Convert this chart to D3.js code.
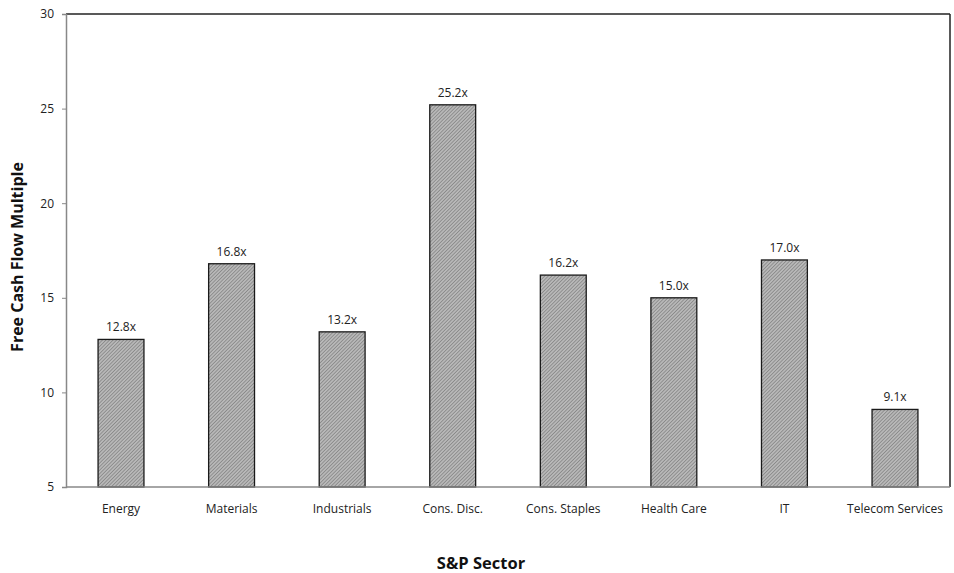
<!DOCTYPE html>
<html><head><meta charset="utf-8">
<script src="https://cdn.jsdelivr.net/npm/d3@7"></script>
<style>body{margin:0;background:#fff;}svg{display:block;font-family:"Open Sans",sans-serif;}</style>
</head><body><svg id="c" width="954" height="573"></svg>
<script>
const categories = ["Energy","Materials","Industrials","Cons. Disc.","Cons. Staples","Health Care","IT","Telecom Services"];
const values = [12.8,16.8,13.2,25.2,16.2,15.0,17.0,9.1];
const valueLabels = ["12.8x","16.8x","13.2x","25.2x","16.2x","15.0x","17.0x","9.1x"];
const yTicks = [5,10,15,20,25,30];

const svg = d3.select("#c");
const m = {l:66, r:950, t:14, b:487};
const x = d3.scaleBand().domain(categories).range([m.l, m.r]).paddingInner(0.585).paddingOuter(0.29);
const y = d3.scaleLinear().domain([5,30]).range([m.b, m.t]);

const defs = svg.append("defs");
const pat = defs.append("pattern").attr("id","hatch").attr("patternUnits","userSpaceOnUse")
  .attr("width",2.5).attr("height",2.5).attr("patternTransform","rotate(45)");
pat.append("rect").attr("width",2.5).attr("height",2.5).attr("fill","#b8b8b8");
pat.append("line").attr("x1",0).attr("y1",0).attr("x2",0).attr("y2",2.5).attr("stroke","#707070").attr("stroke-width",1.1);

// frame
svg.append("line").attr("x1",m.l).attr("x2",m.r).attr("y1",m.t).attr("y2",m.t).attr("stroke","#222").attr("stroke-width",1.5);
svg.append("line").attr("x1",m.r).attr("x2",m.r).attr("y1",m.t).attr("y2",m.b).attr("stroke","#222").attr("stroke-width",1.5);

// bars
svg.selectAll(".bar").data(values).join("rect")
  .attr("x",(d,i)=>x(categories[i])).attr("width",x.bandwidth())
  .attr("y",d=>y(d)).attr("height",d=>y(5)-y(d))
  .attr("fill","url(#hatch)").attr("stroke","#1a1a1a").attr("stroke-width",1.3);

svg.selectAll(".vl").data(values).join("text")
  .attr("x",(d,i)=>x(categories[i])+x.bandwidth()/2).attr("y",d=>y(d)-8)
  .attr("text-anchor","middle").attr("font-size",12).attr("fill","#222")
  .text((d,i)=>valueLabels[i]);

// y axis
const ya = svg.append("g").attr("transform",`translate(${m.l},0)`)
  .call(d3.axisLeft(y).tickValues(yTicks).tickSize(4).tickPadding(8).tickFormat(d3.format("d")));
ya.select(".domain").attr("stroke","#888").attr("stroke-width",1.5);
ya.selectAll(".tick line").attr("stroke","#888");
ya.selectAll("text").attr("font-size",12).attr("fill","#222").attr("font-family","Open Sans");

// x axis
const xa = svg.append("g").attr("transform",`translate(0,${m.b})`)
  .call(d3.axisBottom(x).tickSize(0).tickPadding(17));
xa.select(".domain").attr("stroke","#888").attr("stroke-width",1.5).attr("d",`M${m.l},0H${m.r}`);
xa.selectAll("text").attr("font-size",12).attr("fill","#222").attr("font-family","Open Sans");

svg.append("text").attr("x",481).attr("y",569).attr("text-anchor","middle")
  .attr("font-size",16.5).attr("font-weight","bold").attr("fill","#111").text("S&P Sector");
svg.append("text").attr("transform","translate(23,257) rotate(-90)").attr("text-anchor","middle")
  .attr("font-size",16).attr("font-weight","bold").attr("fill","#111").text("Free Cash Flow Multiple");
</script></body></html>
